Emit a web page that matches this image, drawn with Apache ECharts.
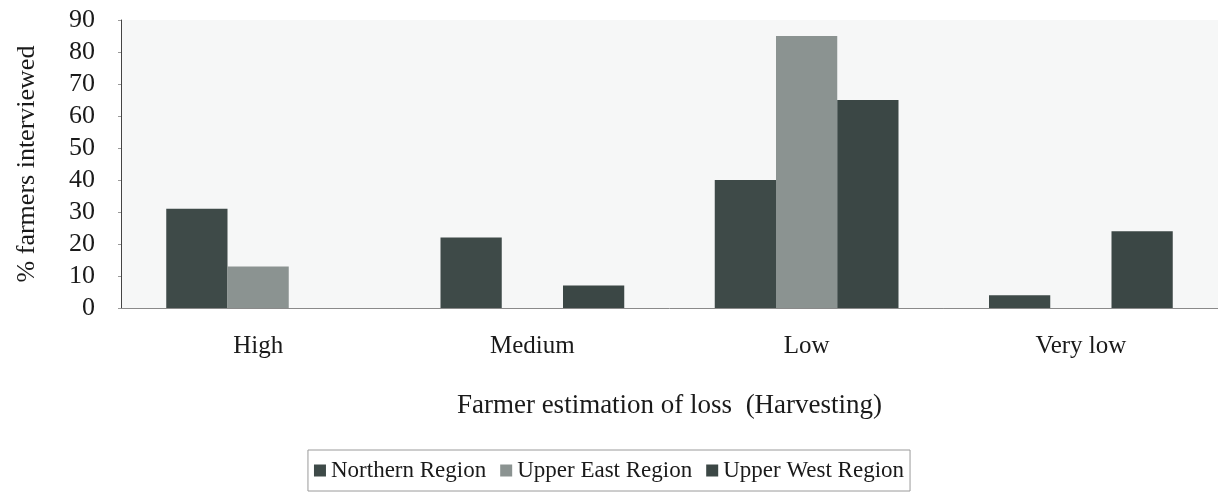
<!DOCTYPE html>
<html>
<head>
<meta charset="utf-8">
<script src="https://cdn.jsdelivr.net/npm/echarts@6/dist/echarts.min.js"></script>
<style>
  html, body { margin: 0; padding: 0; background: #fff; }
  #chart { width: 1218px; height: 497px; }
</style>
</head>
<body>
<div id="chart"></div>
<script>
// categories and values
var categories = ['High', 'Medium', 'Low', 'Very low'];
var seriesNames = ['Northern Region', 'Upper East Region', 'Upper West Region'];
var northern = [31, 22, 40, 4];
var upperEast = [13, 0, 85, 0];
var upperWest = [0, 7, 65, 24];
var yTicks = [0, 10, 20, 30, 40, 50, 60, 70, 80, 90];

var serif = 'Liberation Serif';
var chart = echarts.init(document.getElementById('chart'));

function bar(name, data, fill) {
    return {
        name: name,
        type: 'bar',
        data: data,
        barGap: '0%',
        barCategoryGap: '33%',
        itemStyle: {
            color: fill,
            borderWidth: 0
        }
    };
}

var option = {
    backgroundColor: '#ffffff',
    textStyle: { fontFamily: serif, color: '#1a1a1a' },
    grid: {
        left: 121,
        right: -10,
        top: 20,
        bottom: 189,
        show: true,
        backgroundColor: '#f6f7f7',
        borderWidth: 0
    },
    legend: {
        data: seriesNames,
        icon: 'rect',
        top: 450,
        left: 'center',
        itemWidth: 12,
        itemHeight: 12,
        itemGap: 14,
        padding: [9, 6],
        borderColor: '#9a9a9a',
        borderWidth: 1,
        textStyle: { fontFamily: serif, fontSize: 23, color: '#1a1a1a' }
    },
    xAxis: [{
        type: 'category',
        data: categories,
        name: 'Farmer estimation of loss  (Harvesting)',
        nameLocation: 'middle',
        nameGap: 84,
        nameTextStyle: { fontFamily: serif, fontSize: 27, color: '#1a1a1a' },
        axisLine: { show: true, lineStyle: { color: '#8a8a8a', width: 1 } },
        axisTick: { show: false },
        axisLabel: { margin: 26, fontFamily: serif, fontSize: 25, color: '#1a1a1a' }
    }],
    yAxis: [{
        type: 'value',
        min: 0,
        max: 90,
        interval: 10,
        name: '% farmers interviewed',
        nameLocation: 'middle',
        nameGap: 81,
        nameTextStyle: { fontFamily: serif, fontSize: 26, color: '#1a1a1a' },
        axisLine: { show: true, lineStyle: { color: '#444', width: 1 } },
        axisTick: { show: true, length: 3, lineStyle: { color: '#999' } },
        splitLine: { show: false },
        axisLabel: {
            margin: 26,
            fontFamily: serif,
            fontSize: 26,
            color: '#1a1a1a',
            formatter: function (val) {
                return yTicks.indexOf(val) >= 0 ? String(val) : '';
            }
        }
    }],
    series: [
        bar(seriesNames[0], northern, '#3e4a48'),
        bar(seriesNames[1], upperEast, '#8b9391'),
        bar(seriesNames[2], upperWest, '#3b4745')
    ]
};

chart.setOption(option, true);
</script>
</body>
</html>
